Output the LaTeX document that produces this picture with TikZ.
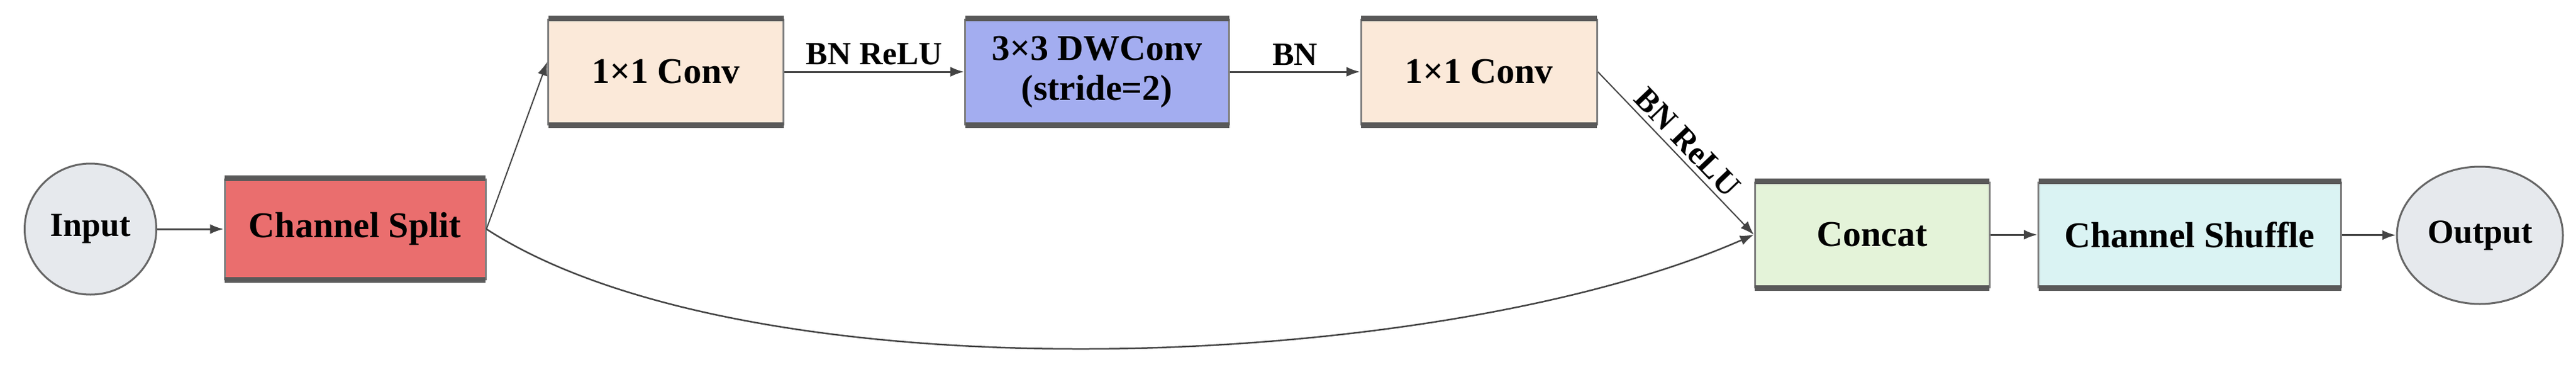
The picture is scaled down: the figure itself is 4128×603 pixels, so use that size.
\documentclass[tikz,border=0pt]{standalone}
\usepackage{fontspec}
\setmainfont{Liberation Serif}
\usetikzlibrary{arrows.meta,shapes.geometric}
\definecolor{cconv}{HTML}{FBE9D9}
\definecolor{cdw}{HTML}{A3ADF0}
\definecolor{csplit}{HTML}{EA6E6E}
\definecolor{ccat}{HTML}{E4F3D9}
\definecolor{cshuf}{HTML}{DAF3F3}
\definecolor{cell}{HTML}{E6E9ED}
\definecolor{cline}{HTML}{444444}
\tikzset{
  blk/.style={draw=gray, line width=3pt, rectangle, inner sep=0pt, font=\fontsize{58}{64}\selectfont\bfseries, align=center},
  ell/.style={draw=gray!80!black, line width=3pt, ellipse, inner sep=0pt, font=\fontsize{54}{60}\selectfont\bfseries},
  arr/.style={draw=cline, line width=3pt, -{Latex[length=22pt,width=16pt]}},
  lab/.style={font=\fontsize{52}{58}\selectfont\bfseries}
}
\begin{document}
\begin{tikzpicture}[x=1pt,y=-1pt]
\useasboundingbox (0,0) rectangle (4128,603);
\node[ell, fill=cell, minimum width=211pt, minimum height=210pt] (in) at (145,367) {Input};
\node[blk, fill=csplit, minimum width=418pt, minimum height=160pt] (split) at (569,367) {Channel Split};
\node[blk, fill=cconv, minimum width=377pt, minimum height=168pt] (c1) at (1067,115) {1×1 Conv};
\node[blk, fill=cdw, minimum width=423pt, minimum height=168pt] (dw) at (1758,115) {3×3 DWConv\\(stride=2)};
\node[blk, fill=cconv, minimum width=378pt, minimum height=168pt] (c2) at (2370,115) {1×1 Conv};
\node[blk, fill=ccat, minimum width=376pt, minimum height=168pt] (cat) at (3000,376) {Concat};
\node[blk, fill=cshuf, minimum width=485pt, minimum height=168pt] (sh) at (3509,376) {Channel Shuffle};
\node[ell, fill=cell, minimum width=266pt, minimum height=220pt] (out) at (3974,377) {Output};
\foreach \n in {split,c1,dw,c2,cat,sh}{
  \draw[gray!70!black, line width=9pt] ([xshift=1.5pt]\n.north west) -- ([xshift=-1.5pt]\n.north east);
  \draw[gray!70!black, line width=9pt] ([xshift=1.5pt]\n.south west) -- ([xshift=-1.5pt]\n.south east);
}
\draw[arr] (in) -- (split);
\draw[arr, line width=2pt] (split.east) -- ([yshift=16pt]c1.west);
\draw[arr] (c1) -- node[lab, above=6pt] {BN ReLU} (dw);
\draw[arr] (dw) -- node[lab, above=6pt] {BN} (c2);
\draw[arr, line width=2pt] (c2.east) -- node[lab, sloped, above=4pt] {BN ReLU} (cat.west);
\draw[arr, line width=2.5pt] (split.east) .. controls (1200,640) and (2300,600) .. (cat.west);
\draw[arr] (cat) -- (sh);
\draw[arr] (sh) -- (out);
\end{tikzpicture}
\end{document}
